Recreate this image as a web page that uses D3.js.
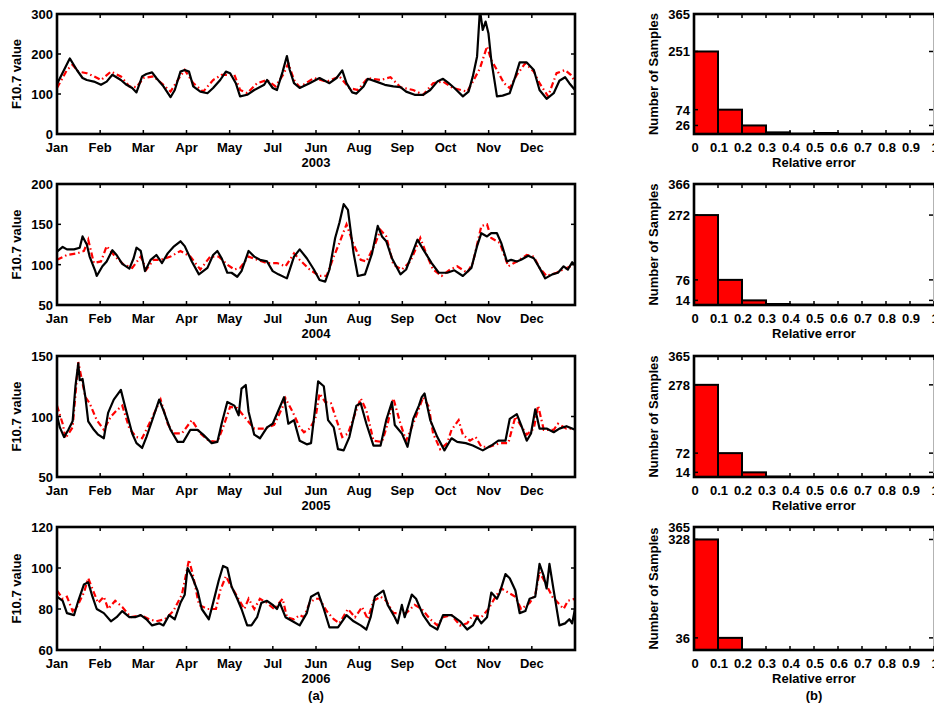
<!DOCTYPE html>
<html>
<head>
<meta charset="utf-8">
<script src="https://d3js.org/d3.v7.min.js"></script>
<style>
  body { margin: 0; background: #fff; }
  svg text {
    font-family: "Liberation Sans", Arial, sans-serif;
    font-weight: bold;
    font-size: 13px;
    fill: #000;
  }
</style>
</head>
<body>
<script>
// ---- data: [day of year, F10.7] ----
var years = ["2003", "2004", "2005", "2006"];
// (the month labels are copied as printed, Jul/Jun included)
var monthLabels = ["Jan","Feb","Mar","Apr","May","Jul","Jun","Aug","Sep","Oct","Nov","Dec"];

var obs2003 = [[0,125],[9,189],[14,160],[18,140],[21,135],[26,131],[31,123],[35,131],[39,148],[45,135],[49,123],[53,115],[56,104],[60,144],[63,150],[67,154],[70,140],[75,119],[80,92],[83,110],[87,156],[90,160],[93,156],[96,119],[101,106],[106,102],[110,115],[115,135],[119,156],[122,152],[126,127],[129,94],[134,98],[139,110],[146,123],[148,135],[152,115],[155,110],[159,156],[162,195],[164,160],[167,127],[171,115],[178,127],[185,140],[192,127],[197,140],[201,159],[204,127],[208,104],[211,101],[216,119],[219,138],[225,131],[231,123],[237,119],[242,117],[246,106],[252,98],[258,98],[263,110],[268,131],[272,138],[276,127],[280,115],[286,94],[290,106],[293,144],[296,194],[298,310],[300,260],[302,281],[304,252],[306,185],[310,94],[314,96],[319,102],[323,144],[326,179],[331,179],[336,160],[340,110],[345,88],[350,102],[354,133],[358,142],[361,127],[365,110]];
var pred2003 = [[0,115],[7,160],[11,173],[15,156],[21,152],[26,144],[31,135],[38,156],[45,144],[51,119],[56,117],[61,140],[68,144],[75,123],[80,106],[86,140],[90,160],[96,127],[103,106],[110,135],[116,148],[125,148],[129,110],[134,102],[141,127],[148,135],[154,119],[160,152],[163,177],[167,135],[171,117],[181,140],[190,131],[199,144],[206,115],[212,110],[219,140],[228,135],[235,142],[242,117],[251,110],[258,98],[265,127],[272,131],[279,115],[289,106],[293,131],[298,164],[303,219],[306,185],[310,160],[315,127],[319,115],[324,148],[330,177],[336,156],[340,127],[346,94],[352,152],[358,160],[362,148],[365,131]];

var obs2004 = [[0,116],[4,122],[7,119],[12,119],[16,121],[18,135],[21,125],[23,110],[27,92],[28,86],[32,98],[35,104],[39,118],[42,112],[46,101],[51,95],[54,108],[56,121],[59,117],[62,92],[66,106],[70,112],[74,102],[78,114],[82,122],[87,129],[90,123],[95,104],[100,88],[106,96],[110,112],[113,117],[116,108],[120,90],[123,90],[127,85],[130,92],[135,117],[139,110],[143,106],[148,104],[152,92],[156,88],[162,83],[167,110],[171,119],[176,108],[181,94],[185,81],[189,79],[192,94],[196,133],[199,152],[202,175],[205,168],[209,114],[212,86],[217,88],[222,114],[226,148],[229,135],[232,129],[236,108],[242,88],[246,94],[251,117],[254,131],[258,119],[264,102],[269,90],[275,90],[280,93],[286,86],[292,96],[296,123],[299,139],[303,135],[306,139],[310,139],[313,127],[317,104],[320,106],[324,104],[327,106],[332,111],[336,108],[340,96],[344,83],[349,88],[353,90],[357,98],[360,94],[363,103],[365,100]];
var pred2004 = [[0,106],[7,112],[14,114],[19,117],[22,131],[26,102],[31,104],[35,123],[41,110],[47,100],[53,96],[59,110],[63,94],[68,106],[73,106],[80,110],[87,117],[94,110],[101,94],[108,110],[114,110],[120,100],[125,94],[129,96],[135,110],[141,106],[148,102],[155,102],[161,98],[167,114],[171,106],[178,94],[185,86],[190,86],[195,110],[199,127],[204,150],[209,125],[214,106],[218,104],[224,125],[228,143],[232,135],[237,100],[243,94],[249,104],[256,133],[261,110],[265,94],[271,86],[277,94],[282,98],[289,90],[293,102],[299,148],[303,150],[306,133],[312,127],[318,98],[324,104],[331,112],[336,110],[340,96],[345,86],[352,90],[359,96],[365,100]];

var obs2005 = [[0,101],[2,91],[5,83],[8,89],[11,96],[13,125],[15,144],[16,130],[18,131],[20,116],[22,96],[26,89],[29,85],[33,82],[36,103],[40,114],[45,122],[48,108],[53,86],[56,78],[60,74],[63,83],[68,100],[72,114],[75,105],[80,89],[85,79],[89,79],[94,89],[99,89],[103,85],[109,78],[113,79],[116,94],[120,112],[125,109],[128,101],[130,123],[133,126],[135,104],[139,85],[143,82],[148,91],[152,94],[156,105],[160,116],[163,94],[167,97],[171,80],[176,77],[179,78],[182,108],[184,129],[188,125],[191,97],[195,91],[198,73],[202,72],[206,83],[211,109],[214,111],[218,94],[223,76],[228,76],[232,97],[236,112],[238,93],[243,86],[247,75],[251,98],[255,109],[257,116],[259,119],[263,97],[268,83],[273,72],[278,82],[282,79],[288,78],[293,76],[300,72],[306,76],[311,80],[316,80],[319,98],[324,102],[327,93],[331,80],[334,86],[337,106],[340,90],[345,90],[350,87],[354,90],[359,92],[365,89]];
var pred2005 = [[0,109],[4,94],[6,82],[11,91],[15,145],[20,116],[23,111],[28,97],[33,89],[38,100],[42,105],[46,109],[51,90],[56,83],[60,82],[65,94],[69,104],[73,114],[78,94],[82,86],[88,86],[95,97],[101,86],[107,80],[113,79],[117,91],[122,108],[127,107],[134,97],[139,90],[146,90],[153,93],[159,108],[161,115],[166,104],[171,91],[174,87],[178,90],[182,98],[185,119],[189,112],[193,111],[197,97],[201,83],[205,86],[210,102],[214,115],[218,105],[223,80],[229,79],[233,94],[237,115],[242,94],[246,80],[252,97],[258,116],[262,108],[265,86],[270,73],[275,78],[278,89],[283,97],[286,85],[291,80],[295,83],[299,75],[305,75],[312,78],[318,78],[323,100],[326,94],[331,85],[336,90],[339,109],[343,89],[350,89],[353,94],[359,90],[365,90]];

var obs2006 = [[0,86],[4,84],[7,78],[12,77],[15,84],[19,92],[22,93],[25,86],[28,80],[33,78],[38,74],[42,76],[46,79],[51,76],[55,76],[59,77],[63,75],[67,72],[72,73],[75,72],[79,77],[83,75],[87,83],[90,87],[92,100],[95,96],[99,89],[102,80],[107,75],[110,83],[114,94],[117,101],[120,100],[123,91],[127,85],[130,80],[134,72],[137,72],[141,76],[144,83],[148,84],[152,82],[155,80],[157,83],[161,76],[166,74],[171,72],[176,78],[179,86],[184,88],[188,80],[192,71],[198,71],[204,77],[209,74],[214,72],[218,70],[221,76],[224,86],[230,89],[233,82],[238,76],[240,73],[243,82],[245,76],[250,87],[253,85],[258,77],[263,72],[268,70],[272,77],[278,77],[284,74],[289,70],[293,72],[296,76],[299,73],[303,76],[306,88],[310,85],[312,88],[316,97],[319,95],[323,89],[326,78],[330,79],[333,85],[337,86],[340,102],[343,96],[345,90],[347,102],[350,89],[354,72],[358,73],[361,75],[363,73],[365,80]];
var pred2006 = [[0,89],[4,85],[7,86],[11,79],[14,81],[19,88],[22,95],[26,88],[29,83],[33,86],[36,80],[41,84],[46,81],[52,76],[59,77],[65,75],[70,74],[76,75],[82,79],[88,87],[93,104],[96,96],[100,82],[106,80],[112,80],[115,89],[119,96],[122,92],[127,86],[132,80],[135,85],[139,80],[143,85],[148,83],[153,80],[159,85],[162,76],[167,75],[171,77],[174,76],[178,83],[182,85],[185,85],[190,79],[195,75],[199,73],[205,80],[210,76],[215,81],[219,75],[223,84],[228,86],[232,84],[237,78],[242,78],[246,78],[252,82],[257,80],[263,75],[268,72],[272,76],[278,77],[284,72],[289,73],[293,77],[299,76],[304,80],[309,86],[313,90],[318,88],[323,86],[327,80],[333,83],[337,87],[340,98],[344,93],[349,86],[353,83],[357,80],[360,84],[365,85]];

var observed = [obs2003, obs2004, obs2005, obs2006];
var predicted = [pred2003, pred2004, pred2005, pred2006];
var yDomains = [[0, 300], [50, 200], [50, 150], [60, 120]];
var yTicks = [[0, 100, 200, 300], [50, 100, 150, 200], [50, 100, 150], [60, 80, 100, 120]];

// relative-error histograms, bins of 0.1 from 0 to 1
var binEdges = [0, 0.1, 0.2, 0.3, 0.4, 0.5, 0.6, 0.7, 0.8, 0.9, 1];
var hist2003 = [251, 74, 26, 5, 1, 3, 0, 0, 0, 0];
var hist2004 = [272, 76, 14, 3, 1, 0, 0, 0, 0, 0];
var hist2005 = [278, 72, 14, 1, 0, 0, 0, 0, 0, 0];
var hist2006 = [328, 36, 1, 0, 0, 0, 0, 0, 0, 0];
var histCounts = [hist2003, hist2004, hist2005, hist2006];
var histMax = [365, 366, 365, 365];
var histTicks = [[26, 74, 251, 365], [14, 76, 272, 366], [14, 72, 278, 365], [36, 328, 365]];

// ---- layout ----
var W = 934, H = 709;
var rowTop = [14, 184, 356, 527];
var rowBot = [134, 305, 477, 650];
var lineL = 57, lineR = 575;
var histL = 694, histR = 935;
var tickLen = 4;

var svg = d3.select("body").append("svg")
  .attr("width", W).attr("height", H);

function box(g, x0, x1, y0, y1) {
  g.append("rect")
    .attr("x", x0).attr("y", y0)
    .attr("width", x1 - x0).attr("height", y1 - y0)
    .attr("fill", "none").attr("stroke", "#000").attr("stroke-width", 2.6);
}

years.forEach(function(yr, i) {
  var top = rowTop[i], bot = rowBot[i];

  // ---------- time series panel ----------
  var g = svg.append("g");
  var x = d3.scaleLinear().domain([0, 365]).range([lineL, lineR]);
  var y = d3.scaleLinear().domain(yDomains[i]).range([bot, top]);

  svg.append("clipPath").attr("id", "clip" + i)
    .append("rect").attr("x", lineL).attr("y", top)
    .attr("width", lineR - lineL).attr("height", bot - top);

  var line = d3.line().x(function(d) { return x(d[0]); }).y(function(d) { return y(d[1]); });

  g.append("path").datum(predicted[i])
    .attr("clip-path", "url(#clip" + i + ")")
    .attr("d", line).attr("fill", "none")
    .attr("stroke", "#ff0000").attr("stroke-width", 2.2)
    .attr("stroke-dasharray", "6,3,1.5,3");

  g.append("path").datum(observed[i])
    .attr("clip-path", "url(#clip" + i + ")")
    .attr("d", line).attr("fill", "none")
    .attr("stroke", "#000").attr("stroke-width", 2.2)
    .attr("stroke-linejoin", "round");

  box(g, lineL, lineR, top, bot);

  // month ticks: 12 equal divisions of the year
  var mTicks = d3.range(13).map(function(k) { return k * 365 / 12; });
  mTicks.forEach(function(t) {
    g.append("line").attr("x1", x(t)).attr("x2", x(t)).attr("y1", bot).attr("y2", bot - tickLen)
      .attr("stroke", "#000").attr("stroke-width", 1.5);
    g.append("line").attr("x1", x(t)).attr("x2", x(t)).attr("y1", top).attr("y2", top + tickLen)
      .attr("stroke", "#000").attr("stroke-width", 1.5);
  });
  monthLabels.forEach(function(m, k) {
    g.append("text").attr("x", x(mTicks[k])).attr("y", bot + 18)
      .attr("text-anchor", "middle").text(m);
  });
  g.append("text").attr("x", (lineL + lineR) / 2).attr("y", bot + 33)
    .attr("text-anchor", "middle").text(yr);

  yTicks[i].forEach(function(v) {
    g.append("line").attr("x1", lineL).attr("x2", lineL + tickLen).attr("y1", y(v)).attr("y2", y(v))
      .attr("stroke", "#000").attr("stroke-width", 1.5);
    g.append("line").attr("x1", lineR).attr("x2", lineR - tickLen).attr("y1", y(v)).attr("y2", y(v))
      .attr("stroke", "#000").attr("stroke-width", 1.5);
    g.append("text").attr("x", lineL - 4).attr("y", y(v) + 5)
      .attr("text-anchor", "end").text(v);
  });
  g.append("text")
    .attr("transform", "translate(21," + ((top + bot) / 2) + ") rotate(-90)")
    .attr("text-anchor", "middle").text("F10.7 value");

  // ---------- histogram panel ----------
  var h = svg.append("g");
  var hx = d3.scaleLinear().domain([0, 1]).range([histL, histL + 240]);
  var hy = d3.scaleLinear().domain([0, histMax[i]]).range([bot, top]);

  h.selectAll("rect.bar").data(histCounts[i]).enter().append("rect")
    .attr("class", "bar")
    .attr("x", function(d, k) { return hx(binEdges[k]); })
    .attr("width", function(d, k) { return hx(binEdges[k + 1]) - hx(binEdges[k]); })
    .attr("y", function(d) { return hy(d); })
    .attr("height", function(d) { return bot - hy(d); })
    .attr("fill", "#ff0000").attr("stroke", "#000").attr("stroke-width", 2);

  box(h, histL, histR, top, bot);

  binEdges.forEach(function(t) {
    h.append("line").attr("x1", hx(t)).attr("x2", hx(t)).attr("y1", bot).attr("y2", bot - tickLen)
      .attr("stroke", "#000").attr("stroke-width", 1.5);
    h.append("line").attr("x1", hx(t)).attr("x2", hx(t)).attr("y1", top).attr("y2", top + tickLen)
      .attr("stroke", "#000").attr("stroke-width", 1.5);
    h.append("text").attr("x", hx(t) + 1).attr("y", bot + 18)
      .attr("text-anchor", "middle").text(t === 0 ? "0" : (t === 1 ? "1" : t.toFixed(1).replace(/^0/, "0")));
  });
  histTicks[i].forEach(function(v) {
    h.append("line").attr("x1", histL).attr("x2", histL + tickLen).attr("y1", hy(v)).attr("y2", hy(v))
      .attr("stroke", "#000").attr("stroke-width", 1.5);
    h.append("line").attr("x1", histR - 2).attr("x2", histR - 2 - tickLen).attr("y1", hy(v)).attr("y2", hy(v))
      .attr("stroke", "#000").attr("stroke-width", 1.5);
    h.append("text").attr("x", histL - 4).attr("y", hy(v) + 5)
      .attr("text-anchor", "end").text(v);
  });
  h.append("text").attr("x", histL + 120).attr("y", bot + 33)
    .attr("text-anchor", "middle").text("Relative error");
  h.append("text")
    .attr("transform", "translate(658," + ((top + bot) / 2) + ") rotate(-90)")
    .attr("text-anchor", "middle").text("Number of Samples");
});

svg.append("text").attr("x", (lineL + lineR) / 2).attr("y", 700)
  .attr("text-anchor", "middle").text("(a)");
svg.append("text").attr("x", histL + 120).attr("y", 700)
  .attr("text-anchor", "middle").text("(b)");
</script>
</body>
</html>
